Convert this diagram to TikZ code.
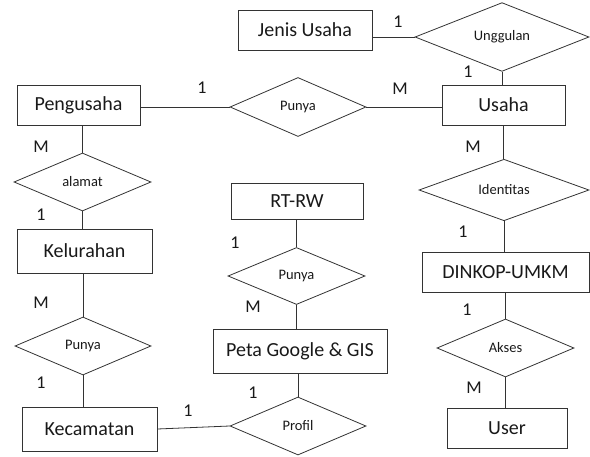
\documentclass[tikz,border=0pt]{standalone}
\usepackage{fontspec}
\setmainfont{Carlito}
\usetikzlibrary{shapes.geometric}
\begin{document}
\begin{tikzpicture}[x=1pt,y=-1pt,
  line width=0.8pt, draw=black!80,
  ent/.style={draw=black!80, rectangle, inner sep=0pt, font=\fontsize{20}{22}\selectfont, text=black!90},
  rel/.style={draw=black!80, diamond, inner sep=0pt, font=\fontsize{14.5}{16}\selectfont, text=black!90},
  card/.style={inner sep=0pt, font=\fontsize{18}{20}\selectfont, text=black!90},
  conn/.style={draw=black!80, line width=0.8pt}]
\useasboundingbox (0,0) rectangle (590,456);
% entities
\node[ent, minimum width=134pt, minimum height=40pt] (ju) at (305,30) {Jenis Usaha};
\node[ent, minimum width=123pt, minimum height=40pt] (peng) at (78.5,105) {Pengusaha};
\node[ent, minimum width=123pt, minimum height=40pt] (usaha) at (503.5,105) {Usaha};
\node[ent, minimum width=167pt, minimum height=40pt] (dinkop) at (505.5,272) {DINKOP-UMKM};
\node[ent, minimum width=120pt, minimum height=40pt] (user) at (507,428) {User};
\node[ent, minimum width=135pt, minimum height=44pt] (kel) at (84.5,251) {Kelurahan};
\node[ent, minimum width=135pt, minimum height=44pt] (kec) at (89.5,429) {Kecamatan\hspace{13pt}};
\node[ent, minimum width=132pt, minimum height=36pt] (rtrw) at (297,201) {RT-RW};
\node[ent, minimum width=174pt, minimum height=44pt] (peta) at (300,351) {Peta Google \& GIS};
% relationships
\node[rel, minimum width=174pt, minimum height=59pt] (ung) at (502,37) {Unggulan};
\node[rel, minimum width=136pt, minimum height=59pt] (punya1) at (298,107) {Punya};
\node[rel, minimum width=170pt, minimum height=58pt] (ident) at (504,190) {Identitas};
\node[rel, minimum width=137pt, minimum height=58pt] (akses) at (505.5,348) {Akses};
\node[rel, minimum width=137pt, minimum height=58pt] (alamat) at (82.5,182) {alamat};
\node[rel, minimum width=136pt, minimum height=58pt] (punya2) at (83,346) {Punya};
\node[rel, minimum width=137pt, minimum height=57pt] (punya3) at (296.5,276) {Punya};
\node[rel, minimum width=136pt, minimum height=58pt] (profil) at (298,426) {Profil};
% connectors
\draw[conn] (ju.east |- ung.west) -- (ung.west);
\draw[conn] (peng.east |- punya1.west) -- (punya1.west);
\draw[conn] (punya1.east) -- (usaha.west |- punya1.east);
\draw[conn] (ung.south) -- (ung.south |- usaha.north);
\draw[conn] (usaha.south) -- (usaha.south |- ident.north);
\draw[conn] (ident.south) -- (ident.south |- dinkop.north);
\draw[conn] (akses.north |- dinkop.south) -- (akses.north);
\draw[conn] (akses.south) -- (akses.south |- user.north);
\draw[conn] (alamat.north |- peng.south) -- (alamat.north);
\draw[conn] (alamat.south) -- (alamat.south |- kel.north);
\draw[conn] (punya2.north |- kel.south) -- (punya2.north);
\draw[conn] (punya2.south) -- (punya2.south |- kec.north);
\draw[conn] (kec.east) -- (profil.west);
\draw[conn] (punya3.north |- rtrw.south) -- (punya3.north);
\draw[conn] (punya3.south) -- (punya3.south |- peta.north);
\draw[conn] (profil.north |- peta.south) -- (profil.north);
% cardinalities
\node[card] (c1) at (398,22) {1};
\node[card] (c2) at (468,72) {1};
\node[card] (c3) at (202,88) {1};
\node[card] (c4) at (400,89) {M};
\node[card] (c5) at (473,147) {M};
\node[card] (c6) at (463,232) {1};
\node[card] (c7) at (467,310) {1};
\node[card] (c8) at (474,388) {M};
\node[card] (c9) at (41,147) {M};
\node[card] (c10) at (41,215) {1};
\node[card] (c11) at (41,303) {M};
\node[card] (c12) at (41,383) {1};
\node[card] (c13) at (188,411) {1};
\node[card] (c14) at (235,243) {1};
\node[card] (c15) at (253,307) {M};
\node[card] (c16) at (253,393) {1};
\end{tikzpicture}
\end{document}
